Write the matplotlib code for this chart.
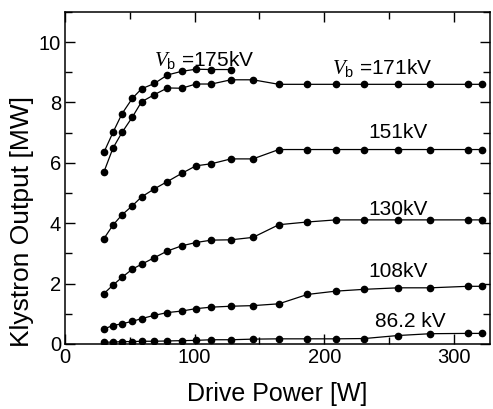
import matplotlib.pyplot as plt
from matplotlib.ticker import MultipleLocator

plt.rcParams['font.family'] = ['Liberation Sans', 'DejaVu Sans']
plt.rcParams['mathtext.fontset'] = 'custom'
plt.rcParams['mathtext.it'] = 'Liberation Serif:italic'
plt.rcParams['mathtext.rm'] = 'Liberation Sans'

# drive power [W] (same sampling for every beam voltage)
power = [30, 37, 44, 52, 59, 69, 79, 90, 101, 113, 128, 145, 165, 187, 209, 231, 257, 282, 311, 322]

# klystron output [MW]
out_175 = [6.35, 7.01, 7.63, 8.14, 8.45, 8.63, 8.91, 9.03, 9.10, 9.09, 9.09]
out_171 = [5.70, 6.49, 7.01, 7.52, 8.02, 8.26, 8.48, 8.47, 8.61, 8.61, 8.75, 8.75,
           8.60, 8.60, 8.60, 8.60, 8.60, 8.60, 8.60, 8.60]
out_151 = [3.49, 3.94, 4.28, 4.58, 4.87, 5.14, 5.38, 5.65, 5.90, 5.97, 6.13, 6.13,
           6.44, 6.44, 6.44, 6.44, 6.44, 6.44, 6.44, 6.44]
out_130 = [1.67, 1.95, 2.21, 2.48, 2.64, 2.86, 3.08, 3.25, 3.36, 3.44, 3.45, 3.53,
           3.95, 4.04, 4.11, 4.11, 4.11, 4.11, 4.11, 4.11]
out_108 = [0.50, 0.61, 0.67, 0.75, 0.84, 0.95, 1.04, 1.09, 1.17, 1.22, 1.25, 1.27,
           1.33, 1.64, 1.75, 1.81, 1.86, 1.86, 1.91, 1.91]
out_862 = [0.06, 0.06, 0.08, 0.08, 0.09, 0.09, 0.10, 0.11, 0.12, 0.14, 0.14, 0.16,
           0.17, 0.17, 0.17, 0.18, 0.28, 0.34, 0.35, 0.35]

fig = plt.figure(figsize=(4.93, 4.09), dpi=100)
ax = fig.add_axes([0.132, 0.159, 0.862, 0.812])

for ys in [out_175, out_171, out_151, out_130, out_108, out_862]:
    ax.plot(power[:len(ys)], ys, '-o', color='black', lw=0.9, ms=4.5)

ax.set_xlim(0, 328)
ax.set_ylim(0, 11)
ax.xaxis.set_major_locator(MultipleLocator(100))
ax.xaxis.set_minor_locator(MultipleLocator(50))
ax.yaxis.set_major_locator(MultipleLocator(2))
ax.yaxis.set_minor_locator(MultipleLocator(1))
ax.tick_params(which='both', direction='in', top=True, right=True, labelsize=14.5, width=1)
ax.tick_params(which='major', length=7.5, pad=3)
ax.tick_params(which='minor', length=5)
for s in ax.spines.values():
    s.set_linewidth(1.1)

ax.set_xlabel('Drive Power [W]', fontsize=18, labelpad=11)
ax.set_ylabel('Klystron Output [MW]', fontsize=19)
ax.yaxis.set_label_coords(-0.072, 0.37)

fs = 15
ax.text(68.5, 9.42, r'$V_{\mathrm{b}}$ =175kV', fontsize=fs, va='center')
ax.text(206, 9.15, r'$V_{\mathrm{b}}$ =171kV', fontsize=fs, va='center')
ax.text(233.8, 7.0, '151kV', fontsize=fs, va='center')
ax.text(233.8, 4.44, '130kV', fontsize=fs, va='center')
ax.text(233.8, 2.39, '108kV', fontsize=fs, va='center')
ax.text(239, 0.73, '86.2 kV', fontsize=fs, va='center')

fig.savefig('out.png', dpi=100)
